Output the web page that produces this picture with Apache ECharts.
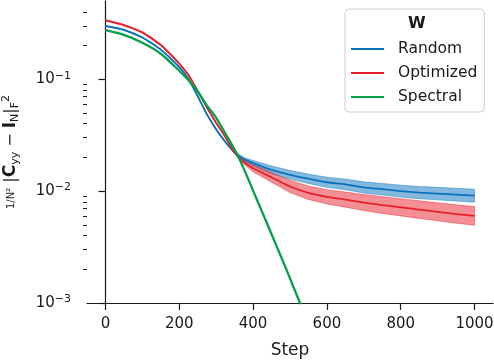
<!DOCTYPE html>
<html>
<head>
<meta charset="utf-8">
<script src="https://cdn.jsdelivr.net/npm/echarts@6/dist/echarts.min.js"></script>
<style>
  html, body { margin: 0; padding: 0; background: #fff; }
  #chart { width: 494px; height: 360px; }
</style>
</head>
<body>
<div id="chart"></div>
<script>
// training steps shared by all curves
const steps = [0, 50, 100, 150, 200, 225, 250, 275, 300, 325, 350, 375, 400, 450,
  500, 550, 600, 650, 700, 750, 800, 850, 900, 950, 1000];

// W = Random
const randomMean = [0.299, 0.276, 0.236, 0.184, 0.1285, 0.1005, 0.0703, 0.0485, 0.0356, 0.0275, 0.0221,
  0.0193, 0.0178, 0.0155, 0.0140, 0.0129, 0.0120, 0.0115, 0.0108, 0.0104, 0.0100, 0.0097, 0.0095, 0.0093, 0.0091];
const randomLow = [0.296, 0.273, 0.234, 0.182, 0.127, 0.0993, 0.0694, 0.0478, 0.0350, 0.0270, 0.0216,
  0.0186, 0.0168, 0.0143, 0.0128, 0.0117, 0.0108, 0.0103, 0.0096, 0.00924, 0.00885, 0.00855, 0.00835, 0.00816, 0.00796];
const randomHigh = [0.302, 0.279, 0.238, 0.186, 0.130, 0.1017, 0.0712, 0.0492, 0.0362, 0.0280, 0.0226,
  0.0200, 0.0188, 0.0168, 0.0153, 0.0142, 0.0133, 0.0128, 0.0121, 0.0117, 0.0113, 0.0110, 0.0108, 0.0106, 0.0104];

// W = Optimized
const optimizedMean = [0.336, 0.305, 0.262, 0.202, 0.138, 0.109, 0.0785, 0.0557, 0.0407, 0.0305, 0.0221,
  0.0182, 0.0160, 0.0133, 0.0110, 0.00966, 0.0089, 0.0084, 0.0079, 0.0075, 0.00716, 0.00684, 0.00653, 0.00624, 0.0060];
const optimizedLow = [0.332, 0.301, 0.259, 0.199, 0.136, 0.107, 0.0772, 0.0547, 0.0399, 0.0298, 0.0215,
  0.0174, 0.0149, 0.0120, 0.0097, 0.00841, 0.00767, 0.00719, 0.0067, 0.00631, 0.0060, 0.0057, 0.00543, 0.00517, 0.00495];
const optimizedHigh = [0.340, 0.309, 0.265, 0.205, 0.140, 0.111, 0.0798, 0.0567, 0.0415, 0.0312, 0.0227,
  0.0191, 0.0172, 0.0147, 0.0125, 0.0111, 0.0103, 0.0098, 0.00932, 0.00892, 0.00855, 0.0082, 0.00785, 0.00754, 0.00727];

// W = Spectral (runs off the bottom of the axis)
const spectralSteps = [0, 50, 100, 150, 200, 225, 250, 275, 300, 325, 350, 375, 400, 425, 450, 475, 500, 525, 550, 575];
const spectralMean = [0.274, 0.249, 0.212, 0.169, 0.119, 0.0977, 0.0776, 0.058, 0.0452, 0.0327, 0.0235,
  0.0158, 0.0101, 0.00646, 0.00412, 0.00263, 0.00166, 0.00104, 0.00065, 0.0004];

const xTicks = [0, 200, 400, 600, 800, 1000];
const yTicks = [0.001, 0.01, 0.1];
const yMinorTicks = [0.002, 0.003, 0.004, 0.005, 0.006, 0.007, 0.008, 0.009,
  0.02, 0.03, 0.04, 0.05, 0.06, 0.07, 0.08, 0.09, 0.2, 0.3, 0.4];

const FONT = 'DejaVu Sans';
const INK = '#1a1a1a';
const BLUE = '#0a72bd';
const RED = '#e8202b';
const GREEN = '#00a14b';

function pairs(xs, ys) {
  return xs.map((x, i) => [x, ys[i]]);
}

// shaded spread drawn as one polygon through the axes' own coords
function band(name, low, high, fill, stroke) {
  return {
    name: name,
    type: 'custom',
    silent: true,
    clip: true,
    data: steps.map((s, i) => [s, low[i], high[i]]),
    encode: { x: 0, y: [1, 2] },
    renderItem(params, api) {
      if (params.dataIndex !== 0) return null;
      const pts = [];
      for (let i = 0; i < steps.length; i++) pts.push(api.coord([steps[i], high[i]]));
      for (let i = steps.length - 1; i >= 0; i--) pts.push(api.coord([steps[i], low[i]]));
      return {
        type: 'polygon',
        shape: { points: pts },
        style: { fill: fill, stroke: stroke, lineWidth: 0.8 }
      };
    }
  };
}

function line(name, xs, ys, color, width) {
  return {
    name: name,
    type: 'line',
    data: pairs(xs, ys),
    symbol: 'none',
    smooth: 0.25,
    clip: true,
    lineStyle: { color: color, width: width },
    itemStyle: { color: color }
  };
}

const chart = echarts.init(document.getElementById('chart'));

chart.setOption({
  animation: false,
  backgroundColor: '#fff',
  textStyle: { fontFamily: FONT },
  grid: { left: 87, right: 1, top: 1, bottom: 57, outerBoundsMode: 'none' },
  xAxis: {
    type: 'value',
    min: -50,
    max: 1050,
    name: 'Step',
    nameLocation: 'middle',
    nameGap: 39,
    nameTextStyle: { fontSize: 17, color: INK, fontFamily: FONT },
    axisLine: { lineStyle: { color: INK, width: 1.2 } },
    axisTick: { length: 7, customValues: xTicks, lineStyle: { color: INK, width: 1.2 } },
    axisLabel: {
      customValues: xTicks, fontSize: 15, color: INK, margin: 14, fontFamily: FONT,
      formatter: v => String(v)
    },
    splitLine: { show: false }
  },
  yAxis: [{
    type: 'log',
    logBase: 10,
    min: 0.001,
    max: 0.5,
    position: 'left',
    name: '{f|1/N²}{n| |}{b|C}{s|yy}{n| − }{b|I}{s|N}{n||}{s|F}{p|2}',
    nameLocation: 'middle',
    nameRotate: 90,
    nameGap: 66,
    nameTextStyle: {
      color: INK,
      fontFamily: FONT,
      rich: {
        f: { fontSize: 10, fontFamily: FONT, color: INK, lineHeight: 20, verticalAlign: 'middle' },
        n: { fontSize: 16, fontFamily: FONT, color: INK, lineHeight: 20 },
        b: { fontSize: 17, fontWeight: 'bold', fontFamily: FONT, color: INK, lineHeight: 20 },
        s: { fontSize: 11, fontFamily: FONT, color: INK, lineHeight: 11, verticalAlign: 'bottom' },
        p: { fontSize: 11, fontFamily: FONT, color: INK, lineHeight: 11, verticalAlign: 'top' }
      }
    },
    axisLine: { show: true, lineStyle: { color: INK, width: 1.2 } },
    axisTick: { length: 7, customValues: yTicks, lineStyle: { color: INK, width: 1.2 } },
    axisLabel: {
      customValues: yTicks,
      margin: 16,
      formatter(v) {
        const e = Math.round(Math.log10(v));
        return '{b|10}{s|' + (e < 0 ? '−' : '') + Math.abs(e) + '}';
      },
      rich: {
        b: { fontSize: 15, fontFamily: FONT, color: INK, lineHeight: 18 },
        s: { fontSize: 11, fontFamily: FONT, color: INK, lineHeight: 11, verticalAlign: 'top' }
      }
    },
    splitLine: { show: false }
  }, {
    // minor ticks of the log axis
    type: 'log',
    logBase: 10,
    min: 0.001,
    max: 0.5,
    position: 'left',
    axisLine: { show: false },
    axisTick: { show: true, length: 4, customValues: yMinorTicks, lineStyle: { color: INK, width: 1 } },
    axisLabel: { show: false },
    splitLine: { show: false }
  }],
  legend: {
    data: ['Random', 'Optimized', 'Spectral'],
    orient: 'vertical',
    left: 345,
    top: 9,
    padding: [32, 7, 7, 5],
    itemWidth: 33,
    itemHeight: 14,
    itemGap: 8,
    itemStyle: { opacity: 0 },
    borderColor: '#cccccc',
    borderWidth: 1,
    borderRadius: 4,
    backgroundColor: 'rgba(255,255,255,0.85)',
    textStyle: { fontSize: 15.5, color: INK, fontFamily: FONT, padding: [0, 0, 0, 9] }
  },
  graphic: [{
    type: 'text',
    left: 408,
    top: 16,
    z: 100,
    style: { text: 'W', font: 'bold 16px "DejaVu Sans"', fill: INK }
  }],
  series: [
    band('Random spread', randomLow, randomHigh, 'rgba(10,114,189,0.5)', 'rgba(10,114,189,0.55)'),
    line('Random', steps, randomMean, BLUE, 1.8),
    band('Optimized spread', optimizedLow, optimizedHigh, 'rgba(232,32,43,0.5)', 'rgba(232,32,43,0.55)'),
    line('Optimized', steps, optimizedMean, RED, 1.8),
    line('Spectral', spectralSteps, spectralMean, GREEN, 2.3)
  ]
});
</script>
</body>
</html>
